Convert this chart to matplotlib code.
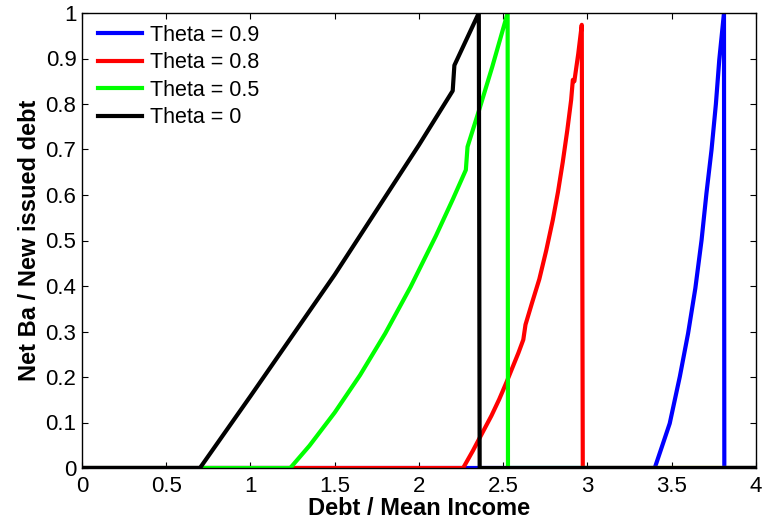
import numpy as np
import matplotlib
matplotlib.use("Agg")
import matplotlib.pyplot as plt

plt.rcParams["font.family"] = ["Liberation Sans", "DejaVu Sans"]

# curves (debt / mean income, net Ba / new issued debt)
x_09 = [0, 3.399, 3.44, 3.488, 3.548, 3.597, 3.64, 3.677, 3.706, 3.736, 3.762,
        3.782, 3.81, 3.812, 4]
y_09 = [0, 0, 0.045, 0.098, 0.201, 0.296, 0.395, 0.501, 0.604, 0.699, 0.80,
        0.897, 1.0, 0, 0]

x_08 = [0, 2.262, 2.32, 2.377, 2.43, 2.476, 2.52, 2.556, 2.59, 2.619, 2.632,
        2.67, 2.714, 2.755, 2.794, 2.825, 2.853, 2.88, 2.903, 2.913, 2.922,
        2.945, 2.966, 2.972, 4]
y_08 = [0, 0, 0.038, 0.078, 0.115, 0.151, 0.189, 0.222, 0.253, 0.282, 0.315,
        0.362, 0.415, 0.478, 0.545, 0.607, 0.672, 0.742, 0.809, 0.853, 0.85,
        0.91, 0.974, 0, 0]

x_05 = [0, 1.236, 1.35, 1.5, 1.65, 1.8, 1.95, 2.1, 2.2, 2.278,
        2.288, 2.357, 2.435, 2.526, 2.528, 4]
y_05 = [0, 0, 0.049, 0.122, 0.204, 0.296, 0.398, 0.510, 0.590, 0.655,
        0.706, 0.787, 0.882, 1.0, 0, 0]

x_0 = [0, 0.70, 1.0, 1.5, 2.0, 2.20, 2.21, 2.355, 2.36, 4]
y_0 = [0, 0, 0.158, 0.425, 0.71, 0.829, 0.885, 1.0, 0, 0]

labels = ["Theta = 0.9", "Theta = 0.8", "Theta = 0.5", "Theta = 0"]
colors = ["#0000ff", "#ff0000", "#00ff00", "#000000"]

xticks = np.arange(0, 4.01, 0.5)
yticks = np.arange(0, 1.01, 0.1)

fig = plt.figure(figsize=(7.62, 5.19), dpi=100)
ax = fig.add_axes([82 / 762, 51 / 519, 674 / 762, 455 / 519])

for xs, ys, lab, c in zip([x_09, x_08, x_05, x_0], [y_09, y_08, y_05, y_0],
                          labels, colors):
    ax.plot(xs, ys, color=c, lw=3, label=lab)

ax.set_xlim(0, 4)
ax.set_ylim(0, 1)
ax.set_xticks(xticks)
ax.set_xticklabels(["%g" % t for t in xticks])
ax.set_yticks(yticks)
ax.set_yticklabels(["%g" % round(t, 1) for t in yticks])
ax.tick_params(direction="in", length=4.5, width=0.8, labelsize=16,
               top=True, right=True)
ax.tick_params(axis="x", pad=6)
ax.tick_params(axis="y", pad=4)
for s in ax.spines.values():
    s.set_linewidth(1)

ax.set_xlabel("Debt / Mean Income", fontsize=17, fontweight="bold", labelpad=0)
ax.set_ylabel("Net Ba / New issued debt", fontsize=17, fontweight="bold", labelpad=3)

ax.legend(loc="upper left", frameon=False, fontsize=15.5, handlelength=2.05,
          handletextpad=0.35, labelspacing=0.30, borderaxespad=0, borderpad=0,
          bbox_to_anchor=(0.024, 0.974))

fig.savefig("out.png", dpi=100)
